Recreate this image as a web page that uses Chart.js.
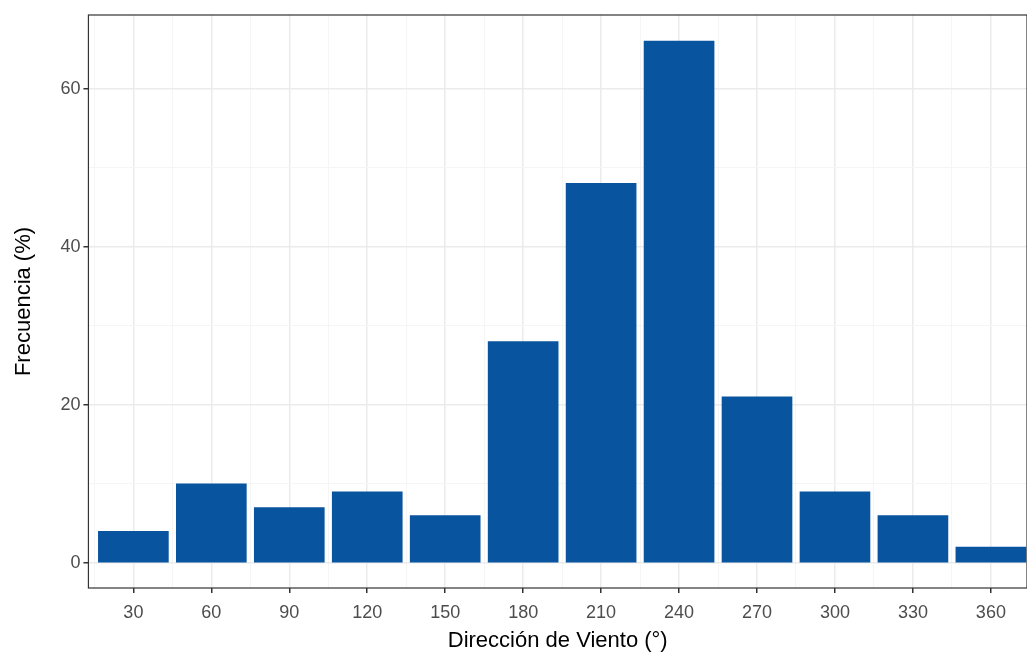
<!DOCTYPE html>
<html>
<head>
<meta charset="utf-8">
<script src="https://cdn.jsdelivr.net/npm/chart.js@4"></script>
<style>
  body { margin: 0; background: #fff; }
  #wrap { width: 1027px; height: 655px; }
</style>
</head>
<body>
<div id="wrap"><canvas id="myChart"></canvas></div>
<script>
const direcciones = [30, 60, 90, 120, 150, 180, 210, 240, 270, 300, 330, 360];
const frecuencias = [4, 10, 7, 9, 6, 28, 48, 66, 21, 9, 6, 2];

const puntos = direcciones.map((d, i) => ({ x: d, y: frecuencias[i] }));

const bordePanel = {
  id: 'bordePanel',
  afterDraw(chart) {
    const a = chart.chartArea, c = chart.ctx;
    c.save();
    c.strokeStyle = '#333333';
    c.lineWidth = 1.2;
    c.strokeRect(a.left, a.top, a.right - a.left, a.bottom - a.top);
    c.restore();
  }
};

function ticksFijos(valores) {
  return function (scale) { scale.ticks = valores.map(v => ({ value: v })); };
}

new Chart(document.getElementById('myChart'), {
  type: 'bar',
  data: {
    datasets: [{
      data: puntos,
      backgroundColor: '#08549e',
      barThickness: 70
    }]
  },
  options: {
    responsive: true,
    maintainAspectRatio: false,
    animation: false,
    layout: { padding: { left: 11, right: 0, top: 15, bottom: 0 } },
    plugins: { legend: { display: false }, tooltip: { enabled: false } },
    scales: {
      x: {
        type: 'linear',
        offset: false,
        min: 12.7,
        max: 373.9,
        afterBuildTicks: ticksFijos([15, 30, 45, 60, 75, 90, 105, 120, 135, 150, 165, 180, 195, 210, 225, 240, 255, 270, 285, 300, 315, 330, 345, 360]),
        ticks: {
          autoSkip: false, maxRotation: 0, padding: 9,
          color: '#4d4d4d', font: { family: 'Liberation Sans', size: 18 },
          callback: v => v % 30 === 0 ? v : ''
        },
        grid: {
          offset: false,
          color: ctx => ctx.tick && ctx.tick.value % 30 === 0 ? '#ebebeb' : '#f5f5f5',
          lineWidth: ctx => ctx.tick && ctx.tick.value % 30 === 0 ? 1.5 : 1,
          tickColor: ctx => ctx.tick && ctx.tick.value % 30 === 0 ? '#333333' : 'transparent',
          tickLength: 5
        },
        border: { display: false },
        title: { display: true, text: 'Dirección de Viento (°)', color: '#000', font: { family: 'Liberation Sans', size: 22 }, padding: { top: -5, bottom: 1 } }
      },
      y: {
        min: -3.17,
        max: 69.3,
        afterBuildTicks: ticksFijos([0, 10, 20, 30, 40, 50, 60]),
        ticks: {
          color: '#4d4d4d', font: { family: 'Liberation Sans', size: 18 },
          callback: v => v % 20 === 0 ? v : ''
        },
        grid: {
          color: ctx => ctx.tick && ctx.tick.value % 20 === 0 ? '#ebebeb' : '#f5f5f5',
          lineWidth: ctx => ctx.tick && ctx.tick.value % 20 === 0 ? 1.5 : 1,
          tickColor: ctx => ctx.tick && ctx.tick.value % 20 === 0 ? '#333333' : 'transparent',
          tickLength: 5
        },
        border: { display: false },
        title: { display: true, text: 'Frecuencia (%)', color: '#000', font: { family: 'Liberation Sans', size: 22 }, padding: { top: 0, bottom: 20 } }
      }
    }
  },
  plugins: [bordePanel]
});
</script>
</body>
</html>
